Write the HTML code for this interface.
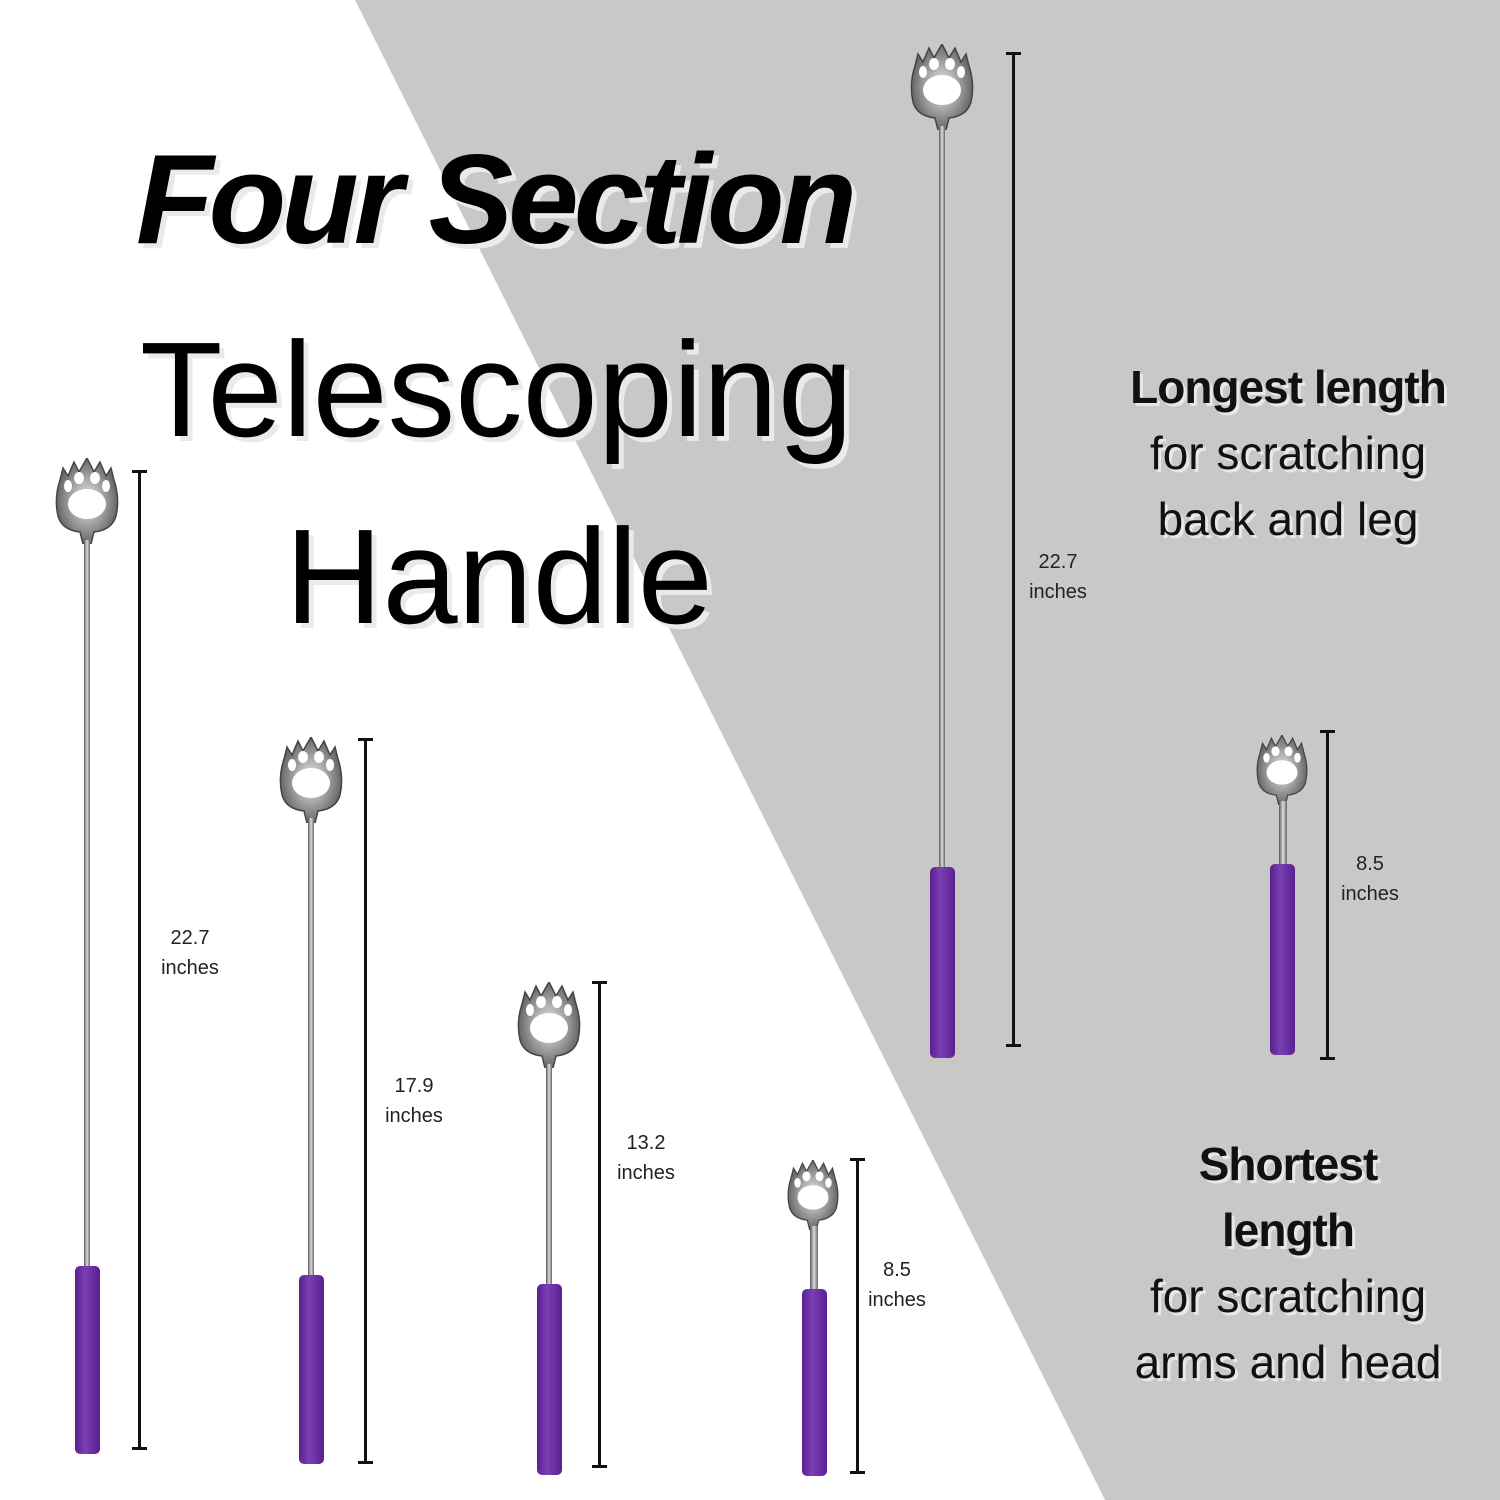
<!DOCTYPE html>
<html><head><meta charset="utf-8"><style>
body{margin:0;width:1500px;height:1500px;overflow:hidden;background:#fff;position:relative;font-family:"Liberation Sans",sans-serif}
.a{position:absolute}
.rod{position:absolute;width:6px;background:linear-gradient(90deg,#555,#ddd,#666)}
.hd{position:absolute;background:linear-gradient(90deg,#5a1f8f,#7a3fb5 40%,#5a1f8f);border-radius:5px}
.bar{position:absolute;width:3px;background:#111}
.bar:before,.bar:after{content:"";position:absolute;left:-6px;width:15px;height:3px;background:#111}
.bar:before{top:0}.bar:after{bottom:0}
.lb{position:absolute;width:100px;text-align:center;font-size:20px;line-height:30px;color:#222}
.t{position:absolute;color:#000;text-shadow:5px 5px 0 #eaeaea;white-space:nowrap}
.r{position:absolute;left:1088px;width:400px;text-align:center;font-size:46px;line-height:66px;color:#111;text-shadow:3px 3px 0 #e8e8e8}
.r b{letter-spacing:-1px}
</style></head><body>
<svg class="a" style="left:0;top:0" width="1500" height="1500"><polygon points="355,0 1500,0 1500,1500 1105,1500" fill="#c8c8c7"/></svg>
<svg width="0" height="0" style="position:absolute"><defs>
<radialGradient id="g"><stop offset="0" stop-color="#eee"/><stop offset="1" stop-color="#666"/></radialGradient>
<symbol id="paw" viewBox="0 0 66 86"><path d="M6 22 L9 10 L14 18 L20 4 L25 14 L33 0 L40 14 L46 4 L52 18 L57 10 L60 22 Q66 40 62 58 Q58 72 40 74 L37 86 L29 86 L26 74 Q8 72 4 58 Q0 40 6 22Z" fill="url(#g)" stroke="#444" stroke-width="1.5"/>
<ellipse cx="33" cy="46" rx="19" ry="15" fill="#fff"/><ellipse cx="14" cy="28" rx="4" ry="6" fill="#fff"/><ellipse cx="25" cy="20" rx="5" ry="6" fill="#fff"/><ellipse cx="41" cy="20" rx="5" ry="6" fill="#fff"/><ellipse cx="52" cy="28" rx="4" ry="6" fill="#fff"/></symbol></defs></svg>

<div class="t" style="left:136px;top:126px;font-size:127px;font-weight:bold;font-style:italic;letter-spacing:-5px">Four Section</div>
<div class="t" style="left:140px;top:312px;font-size:135px">Telescoping</div>
<div class="t" style="left:285px;top:499px;font-size:135px">Handle</div>

<div class="r" style="top:354px"><b>Longest length</b><br>for scratching<br>back and leg</div>
<div class="r" style="top:1131px"><b>Shortest<br>length</b><br>for scratching<br>arms and head</div>

<!-- A -->
<svg class="a" style="left:54px;top:458px" width="66" height="86"><use href="#paw"/></svg>
<div class="rod" style="left:84px;top:540px;height:730px"></div>
<div class="hd" style="left:75px;top:1266px;width:25px;height:188px"></div>
<div class="bar" style="left:138px;top:470px;height:980px"></div>
<div class="lb" style="left:140px;top:923px">22.7<br>inches</div>
<!-- B -->
<svg class="a" style="left:278px;top:737px" width="66" height="86"><use href="#paw"/></svg>
<div class="rod" style="left:308px;top:818px;height:460px"></div>
<div class="hd" style="left:299px;top:1275px;width:25px;height:189px"></div>
<div class="bar" style="left:364px;top:738px;height:726px"></div>
<div class="lb" style="left:364px;top:1071px">17.9<br>inches</div>
<!-- C -->
<svg class="a" style="left:516px;top:982px" width="66" height="86"><use href="#paw"/></svg>
<div class="rod" style="left:546px;top:1064px;height:222px"></div>
<div class="hd" style="left:537px;top:1284px;width:25px;height:191px"></div>
<div class="bar" style="left:598px;top:981px;height:487px"></div>
<div class="lb" style="left:596px;top:1128px">13.2<br>inches</div>
<!-- D -->
<svg class="a" style="left:786px;top:1160px" width="54" height="70"><use href="#paw"/></svg>
<div class="rod" style="left:810px;top:1226px;height:66px;width:8px"></div>
<div class="hd" style="left:802px;top:1289px;width:25px;height:187px"></div>
<div class="bar" style="left:856px;top:1158px;height:316px"></div>
<div class="lb" style="left:847px;top:1255px">8.5<br>inches</div>
<!-- E -->
<svg class="a" style="left:909px;top:44px" width="66" height="86"><use href="#paw"/></svg>
<div class="rod" style="left:939px;top:126px;height:744px"></div>
<div class="hd" style="left:930px;top:867px;width:25px;height:191px"></div>
<div class="bar" style="left:1012px;top:52px;height:995px"></div>
<div class="lb" style="left:1008px;top:547px">22.7<br>inches</div>
<!-- F -->
<svg class="a" style="left:1255px;top:735px" width="54" height="70"><use href="#paw"/></svg>
<div class="rod" style="left:1279px;top:801px;height:66px;width:8px"></div>
<div class="hd" style="left:1270px;top:864px;width:25px;height:191px"></div>
<div class="bar" style="left:1326px;top:730px;height:330px"></div>
<div class="lb" style="left:1320px;top:849px">8.5<br>inches</div>
</body></html>
